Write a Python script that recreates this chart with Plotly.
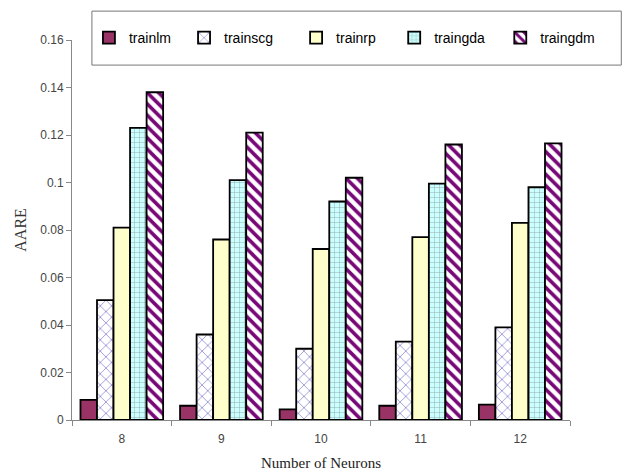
import plotly.graph_objects as go

# Number of hidden neurons and average absolute relative error per training algorithm
neurons = ["8", "9", "10", "11", "12"]
trainlm = [0.0085, 0.006, 0.0045, 0.006, 0.0065]
trainscg = [0.0505, 0.036, 0.030, 0.033, 0.039]
trainrp = [0.081, 0.076, 0.072, 0.077, 0.083]
traingda = [0.123, 0.101, 0.092, 0.0995, 0.098]
traingdm = [0.138, 0.121, 0.102, 0.116, 0.1165]

series = [
    ("trainlm", trainlm, dict(color="#993366")),
    ("trainscg", trainscg, dict(color="white",
                                pattern=dict(shape="x", fgcolor="#4444b8", fgopacity=1,
                                             size=8, solidity=0.12))),
    ("trainrp", trainrp, dict(color="#ffffcc")),
    ("traingda", traingda, dict(color="#ccffff",
                                pattern=dict(shape="+", fgcolor="#8aa0a0", fgopacity=1,
                                             size=5, solidity=0.16))),
    ("traingdm", traingdm, dict(color="white",
                                pattern=dict(shape="\\", fgcolor="#780878", fgopacity=1,
                                             size=8, solidity=0.45))),
]

# one legend per entry so the entries sit in a single spaced row
legend_x = [0.034, 0.225, 0.450, 0.647, 0.860]

fig = go.Figure()
legends = {}
for i, (name, vals, mk) in enumerate(series):
    mk = dict(mk)
    mk["line"] = dict(color="black", width=1.8)
    lg = "legend" if i == 0 else f"legend{i + 1}"
    fig.add_trace(go.Bar(name=name, x=neurons, y=vals, marker=mk, legend=lg))
    legends[lg] = dict(
        orientation="h", x=legend_x[i], y=1.005, xanchor="left", yanchor="middle",
        bgcolor="rgba(0,0,0,0)", borderwidth=0, itemwidth=30,
        font=dict(family="Liberation Sans, Arial", size=14, color="black"),
    )

fig.update_layout(
    width=625, height=474,
    margin=dict(l=72, r=55, t=40, b=54),
    paper_bgcolor="white", plot_bgcolor="white",
    barmode="group", bargap=0.17, bargroupgap=0,
    font=dict(family="Liberation Sans, Arial", size=12, color="#444"),
    showlegend=True,
    shapes=[dict(type="rect", xref="paper", yref="paper",
                 x0=0.04, x1=1.103, y0=0.934, y1=1.076,
                 line=dict(color="#777", width=1), fillcolor="white", layer="below")],
    annotations=[
        dict(text="AARE", xref="paper", yref="paper", x=-0.105, y=0.5,
             xanchor="center", yanchor="middle", textangle=-90, showarrow=False,
             font=dict(family="Liberation Serif, Times New Roman", size=16, color="#333")),
        dict(text="Number of Neurons", xref="paper", yref="paper", x=0.5, y=-0.113,
             xanchor="center", yanchor="middle", showarrow=False,
             font=dict(family="Liberation Serif, Times New Roman", size=15, color="#222")),
    ],
    **legends,
)

fig.update_yaxes(
    range=[0, 0.16], dtick=0.02, tickformat="~g",
    showgrid=False, zeroline=False,
    showline=True, linecolor="#888", linewidth=1,
    ticks="outside", ticklen=5, tickcolor="#888", automargin=False,
)
fig.update_xaxes(
    showgrid=False, showline=True, linecolor="#888", linewidth=1,
    ticks="outside", ticklen=5, tickcolor="#888", tickson="boundaries",
    ticklabelstandoff=8, automargin=False,
)

fig.write_html("out.html")
